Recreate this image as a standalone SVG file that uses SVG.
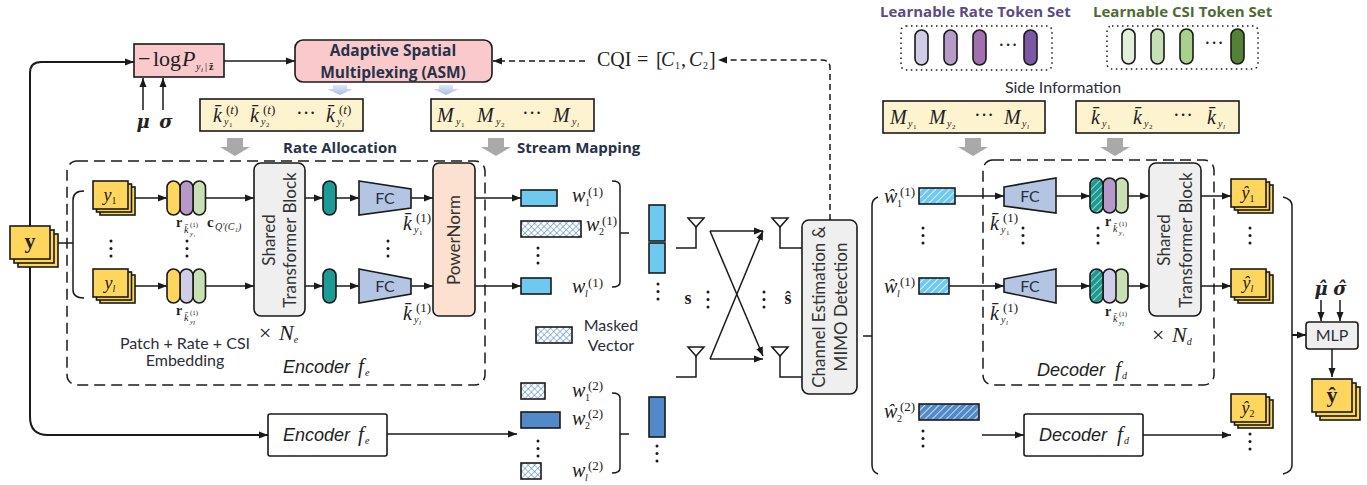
<svg xmlns="http://www.w3.org/2000/svg" width="1367" height="485" viewBox="0 0 1367 485">
<style>
text{fill:#222}
.n{stroke:#1a1a1a;stroke-width:1.6}
.c{fill:none;stroke:#1a1a1a;stroke-width:1.5}
.b{stroke-width:2}
.ar{marker-end:url(#ah)}
.dash{stroke-dasharray:11 6}
.d2{stroke-dasharray:6 4}
.dot{fill:none;stroke:#1a1a1a;stroke-width:1.5;stroke-dasharray:1.5 3.5}
.sans{font-family:Lato,"Open Sans","Liberation Sans",sans-serif;font-size:16px;fill:#2a2f3a}
.hd{font-family:"Open Sans",Lato,"Liberation Sans",sans-serif;font-size:15px;font-weight:700;fill:#263248}
.rot{font-family:Lato,"Open Sans","Liberation Sans",sans-serif;font-size:17px;fill:#333;text-anchor:middle}
.it{font-family:"Liberation Sans",Arial,sans-serif;font-style:italic;font-size:18px;fill:#222}
.m{font-family:"Liberation Serif","Times New Roman",serif;font-style:italic;font-size:20px}
.bm{font-family:"DejaVu Serif",serif;font-style:italic;font-weight:700;font-size:18px}
.r{font-style:normal}
.s{font-size:10px}
.t{font-size:7px;font-style:normal}
.ti{font-size:7px;font-style:italic}
.u{font-size:13px;font-style:normal}
.bo{font-weight:700}
.gr{fill:#a9a9a9}
.y{fill:#fdf3cf}
.st{fill:#fed65e}
.dt{fill:#1a1a1a}
</style>
<defs>
<marker id="ah" markerUnits="userSpaceOnUse" markerWidth="10" markerHeight="8" refX="9" refY="4" orient="auto"><path d="M0 0.5L9 4L0 7.5Z" fill="#1a1a1a"/></marker>
<pattern id="cross" width="4.500" height="4.500" patternUnits="userSpaceOnUse" patternTransform="rotate(45)"><rect width="4.500" height="4.500" fill="#fff"/><path d="M0 0H4.500M0 0V4.500" stroke="#3f7cc0" stroke-width="1.100"/></pattern>
<pattern id="hl" width="5" height="5" patternUnits="userSpaceOnUse" patternTransform="rotate(45)"><rect width="5" height="5" fill="#6ec9f0"/><path d="M0 0V5" stroke="#fff" stroke-width="1.4"/></pattern>
<pattern id="hd" width="5" height="5" patternUnits="userSpaceOnUse" patternTransform="rotate(45)"><rect width="5" height="5" fill="#5289c8"/><path d="M0 0V5" stroke="#fff" stroke-width="1.4"/></pattern>
<pattern id="ht" width="5" height="5" patternUnits="userSpaceOnUse" patternTransform="rotate(45)"><rect width="5" height="5" fill="#1b9a8f"/><path d="M0 0V5" stroke="#fff" stroke-width="1.2"/></pattern>
<linearGradient id="fn" x1="0" y1="0" x2="0" y2="1"><stop offset="0" stop-color="#dfe6f6"/><stop offset="1" stop-color="#a9bde8"/></linearGradient>
<path id="gar" class="gr" d="M-8 0H8V9H15L0 18L-15 9H-8Z"/>
<path id="lar" fill="url(#fn)" d="M-7 0H7V4H13L0 10L-13 4H-7Z"/>
<g id="st3"><rect class="n st" x="7" y="6" width="35" height="28"/><rect class="n st" x="3.500" y="3" width="35" height="28"/><rect class="n st" width="35" height="28"/></g>
<g id="dv"><circle cx="0" cy="0" r="1.500" class="dt"/><circle cx="0" cy="7.500" r="1.500" class="dt"/><circle cx="0" cy="15" r="1.500" class="dt"/></g>
</defs>

<g id="connectors">
<path class="c b ar" d="M30 226V73Q30 62 41 62H134"/>
<path class="c b ar" d="M30 267V417Q30 435 48 435H268"/>
<path class="c ar" d="M224 61H295"/>
<path class="c ar" d="M143 110V78"/><path class="c ar" d="M163 110V78"/>
<path class="c" d="M58 243H73"/>
<path class="c" d="M84 191Q73 191 73 200V290Q73 298 84 298"/>
<path class="c ar" d="M135 198H167"/><path class="c ar" d="M205 198H254"/><path class="c ar" d="M305 198H323"/><path class="c ar" d="M336 198H359"/><path class="c ar" d="M411 198H433"/><path class="c ar" d="M475 198H521"/>
<path class="c ar" d="M135 286H167"/><path class="c ar" d="M205 286H254"/><path class="c ar" d="M305 286H323"/><path class="c ar" d="M336 286H359"/><path class="c ar" d="M411 286H433"/><path class="c ar" d="M475 286H521"/>
<path class="c ar" d="M387 434H517"/>
<path class="c" d="M612 181Q620 181 620 186V282Q620 287 612 287M620 233H629"/>
<path class="c" d="M612 393Q620 393 620 398V468Q620 473 612 473M620 434H629"/>
<path class="c" d="M676 248H696V226M676 377H696V356M780 226V248H802M780 356V377H802"/>
<path class="c ar" d="M710 231H763"/><path class="c ar" d="M710 231L763 356"/><path class="c ar" d="M710 359H763"/><path class="c ar" d="M710 359L763 231"/>
<path class="c d2 ar" d="M830 220V68Q830 60 822 60H718"/>
<path class="c d2 ar" d="M585 61H493"/>
<path class="c" d="M863 336H872"/>
<path class="c" d="M878 197Q872 199 872 206V465Q872 472 878 474"/>
<path class="c" d="M1283 197Q1292 199 1292 206V465Q1292 472 1283 474"/>
<path class="c b ar" d="M1292 335H1306"/>
<path class="c ar" d="M955 196H1004"/><path class="c ar" d="M1056 196H1090"/><path class="c ar" d="M1128 196H1149"/><path class="c ar" d="M1201 196H1231"/>
<path class="c ar" d="M949 286H1004"/><path class="c ar" d="M1056 286H1090"/><path class="c ar" d="M1128 286H1149"/><path class="c ar" d="M1201 286H1231"/>
<path class="c ar" d="M982 435H1024"/><path class="c ar" d="M1143 435H1231"/>
<path class="c ar" d="M1321 300V321"/><path class="c ar" d="M1340 300V321"/><path class="c ar" d="M1332 349V377"/>
</g>

<g id="input-y"><rect class="n st" x="18" y="234" width="40" height="33"/><rect class="n st" x="14" y="230" width="40" height="33"/><rect class="n st" x="10" y="226" width="40" height="33"/><text class="m r bo" x="30" y="248" text-anchor="middle" style="font-size:22px">y</text></g>

<g id="neg-log"><rect class="n" x="134" y="44" width="90" height="33" fill="#f9c9cc"/>
<text class="m r" x="138" y="66" style="font-size:22px">−<tspan x="153">log</tspan><tspan x="182" font-style="italic">P</tspan><tspan class="s" x="196" y="70" font-style="italic">y</tspan><tspan class="ti" x="201" y="72">i</tspan><tspan class="s" x="205" y="70">|</tspan><tspan class="s bo" x="209" y="70" font-style="normal">z̄</tspan></text></g>

<g id="asm"><rect class="n" x="295" y="40" width="197" height="42" rx="8" fill="#f9c9cc"/>
<text class="hd" x="393" y="56" text-anchor="middle" style="font-size:15.500px">Adaptive Spatial</text><text class="hd" x="393" y="78" text-anchor="middle" style="font-size:15.500px">Multiplexing (ASM)</text></g>

<g id="mu-sigma"><text class="bm" x="143" y="128" text-anchor="middle">μ</text><text class="bm" x="166" y="128" text-anchor="middle">σ</text></g>
<g id="asm-outputs"><use href="#lar" x="340" y="85"/><use href="#lar" x="446" y="85"/></g>

<g id="rate-box"><rect class="n y" x="200" y="99" width="163" height="32"/>
<text class="m" x="213" y="122">k̄<tspan class="s" x="224" y="125">y</tspan><tspan class="t" x="229" y="127">1</tspan><tspan class="u" x="226" y="114">(<tspan font-style="italic">t</tspan>)</tspan></text>
<text class="m" x="250" y="122">k̄<tspan class="s" x="261" y="125">y</tspan><tspan class="t" x="266" y="127">2</tspan><tspan class="u" x="263" y="114">(<tspan font-style="italic">t</tspan>)</tspan></text>
<text class="m r" x="296" y="120">···</text>
<text class="m" x="326" y="122">k̄<tspan class="s" x="337" y="125">y</tspan><tspan class="ti" x="342" y="127">l</tspan><tspan class="u" x="339" y="114">(<tspan font-style="italic">t</tspan>)</tspan></text></g>

<g id="map-box"><rect class="n y" x="431" y="99" width="163" height="32"/>
<text class="m" x="437" y="122">M<tspan class="s" x="456" y="125">y</tspan><tspan class="t" x="461" y="127">1</tspan></text>
<text class="m" x="477" y="122">M<tspan class="s" x="496" y="125">y</tspan><tspan class="t" x="501" y="127">2</tspan></text>
<text class="m r" x="522" y="120">···</text>
<text class="m" x="553" y="122">M<tspan class="s" x="572" y="125">y</tspan><tspan class="ti" x="577" y="127">l</tspan></text></g>

<g id="side-arrows"><use href="#gar" x="235" y="138"/><use href="#gar" x="496" y="138"/><use href="#gar" x="973" y="138"/><use href="#gar" x="1115" y="138"/></g>
<text class="hd" x="283" y="153">Rate Allocation</text>
<text class="hd" x="517" y="153">Stream Mapping</text>

<g id="encoder">
<rect x="67" y="161" width="418" height="224" rx="10" class="c dash"/>
<use href="#st3" x="93" y="181"/><text class="m" x="110" y="201" text-anchor="middle" style="font-size:18px">y<tspan class="s r" dy="3">1</tspan></text>
<use href="#st3" x="93" y="269"/><text class="m" x="110" y="289" text-anchor="middle" style="font-size:18px">y<tspan class="s" dy="3">l</tspan></text>
<g class="n"><rect x="193" y="181" width="12.500" height="34" rx="6.200" fill="#c8e0b4"/><rect x="180" y="181" width="13" height="34" rx="6.500" fill="#b59ac9"/><rect x="167" y="181" width="13" height="34" rx="6.500" fill="#fed65e"/>
<rect x="193" y="269" width="12.500" height="34" rx="6.200" fill="#c8e0b4"/><rect x="180" y="269" width="13" height="34" rx="6.500" fill="#cfcde8"/><rect x="167" y="269" width="13" height="34" rx="6.500" fill="#fed65e"/></g>
<rect class="n" x="254" y="163" width="51" height="153" rx="7" fill="#eeefee"/>
<text class="rot" transform="translate(275 240) rotate(-90)">Shared</text><text class="rot" transform="translate(296 240) rotate(-90)">Transformer Block</text>
<rect class="n" x="323" y="181" width="13" height="34" rx="6.500" fill="#1b9a96"/><rect class="n" x="323" y="269" width="13" height="34" rx="6.500" fill="#1b9a96"/>
<path class="n" d="M359 181L411 189V208L359 215Z" fill="#b3c5e3"/><path class="n" d="M359 269L411 279V294L359 303Z" fill="#b3c5e3"/>
<text class="sans" x="385" y="204" text-anchor="middle">FC</text><text class="sans" x="385" y="292" text-anchor="middle">FC</text>
<rect class="n" x="433" y="163" width="42" height="153" rx="6" fill="#fce0d0"/>
<text class="rot" transform="translate(460 240) rotate(-90)">PowerNorm</text>
<use href="#dv" x="111" y="241"/><use href="#dv" x="187" y="241"/><use href="#dv" x="388" y="241"/>
<text class="m bo r" x="176" y="227" style="font-size:14px">r<tspan class="s" x="184" y="233" font-weight="400" font-style="italic">k̄</tspan><tspan class="t" x="190" y="227" font-weight="400">(1)</tspan><tspan class="ti" x="190" y="236" font-weight="400">y₁</tspan></text>
<text class="m bo r" x="207" y="227" style="font-size:15px">c<tspan class="s" x="215" y="230" font-weight="400" font-style="italic">Q′(C₁)</tspan></text>
<text class="m bo r" x="176" y="315" style="font-size:14px">r<tspan class="s" x="184" y="321" font-weight="400" font-style="italic">k̄</tspan><tspan class="t" x="190" y="315" font-weight="400">(1)</tspan><tspan class="ti" x="190" y="324" font-weight="400">y<tspan dy="1">l</tspan></tspan></text>
<text class="m" x="403" y="230">k̄<tspan class="s" x="414" y="233">y</tspan><tspan class="t" x="419" y="235">1</tspan><tspan class="u" x="416" y="222">(1)</tspan></text>
<text class="m" x="403" y="320">k̄<tspan class="s" x="414" y="323">y</tspan><tspan class="ti" x="419" y="325">l</tspan><tspan class="u" x="416" y="312">(1)</tspan></text>
<text class="m" x="259" y="340" style="font-size:22px"><tspan class="r">×</tspan><tspan x="279">N</tspan><tspan class="s" dy="3">e</tspan></text>
<text class="sans" x="185" y="349" text-anchor="middle">Patch + Rate + CSI</text><text class="sans" x="185" y="366" text-anchor="middle">Embedding</text>
<text class="it" x="283" y="373">Encoder<tspan class="m" x="358" style="font-size:21px">f</tspan><tspan class="m s" x="365" y="376" style="font-size:10px">e</tspan></text>
</g>

<g id="encoder-2"><rect class="n" x="268" y="414" width="119" height="42" rx="2" fill="#fff"/><text class="it" x="283" y="441">Encoder<tspan class="m" x="358" style="font-size:21px">f</tspan><tspan class="m s" x="365" y="444" style="font-size:10px">e</tspan></text></g>

<g id="stream-1">
<rect class="n" x="521" y="190" width="36" height="16" fill="#6ec9f0"/><rect class="n" x="521" y="221" width="60" height="16" fill="url(#cross)"/><use href="#dv" x="538" y="248"/><rect class="n" x="521" y="278" width="30" height="16" fill="#6ec9f0"/>
<text class="m" x="572" y="202">w<tspan class="s r" x="585" y="206">1</tspan><tspan class="u" x="588" y="196">(1)</tspan></text>
<text class="m" x="586" y="231">w<tspan class="s r" x="599" y="235">2</tspan><tspan class="u" x="602" y="225">(1)</tspan></text>
<text class="m" x="572" y="293">w<tspan class="s" x="585" y="297">l</tspan><tspan class="u" x="588" y="287">(1)</tspan></text>
<rect class="n" x="649" y="205" width="16" height="36" fill="#6ec9f0"/><rect class="n" x="649" y="243" width="16" height="30" fill="#6ec9f0"/><use href="#dv" x="658" y="284"/>
</g>

<g id="masked-legend"><rect class="n" x="536" y="327" width="36" height="16" fill="url(#cross)"/><text class="sans" x="611" y="331" text-anchor="middle">Masked</text><text class="sans" x="611" y="351" text-anchor="middle">Vector</text></g>

<g id="stream-2">
<rect class="n" x="521" y="383" width="24" height="16" fill="url(#cross)"/><rect class="n" x="521" y="412" width="39" height="16" fill="#5289c8"/><use href="#dv" x="538" y="441"/><rect class="n" x="521" y="463" width="20" height="16" fill="url(#cross)"/>
<text class="m" x="572" y="397">w<tspan class="s r" x="585" y="401">1</tspan><tspan class="u" x="588" y="390">(2)</tspan></text>
<text class="m" x="572" y="425">w<tspan class="s r" x="585" y="429">2</tspan><tspan class="u" x="588" y="418">(2)</tspan></text>
<text class="m" x="572" y="477">w<tspan class="s" x="585" y="481">l</tspan><tspan class="u" x="588" y="470">(2)</tspan></text>
<rect class="n" x="649" y="397" width="16" height="40" fill="#5289c8"/><use href="#dv" x="657" y="446"/>
</g>

<g id="mimo">
<g class="c"><path fill="#fff" d="M688 218H704L696 227Z"/><path fill="#fff" d="M688 347H704L696 356Z"/><path fill="#fff" d="M772 218H788L780 227Z"/><path fill="#fff" d="M772 347H788L780 356Z"/></g>
<text class="m r bo" x="688" y="304" text-anchor="middle" style="font-size:18px">s</text><use href="#dv" x="708" y="292"/><use href="#dv" x="764" y="292"/><text class="m r bo" x="788" y="304" text-anchor="middle" style="font-size:18px">ŝ</text>
</g>

<g id="channel"><rect class="n" x="802" y="220" width="55" height="174" rx="7" fill="#eeefee"/><text class="rot" transform="translate(825 307) rotate(-90)">Channel Estimation &amp;</text><text class="rot" transform="translate(847 307) rotate(-90)">MIMO Detection</text></g>

<g id="cqi"><text class="m r" x="597" y="66" style="font-size:20px">CQI<tspan x="637">=</tspan><tspan x="656">[</tspan><tspan x="661" font-style="italic">C</tspan><tspan class="s" x="675" y="69">1</tspan><tspan x="681" y="66">,</tspan><tspan x="689" font-style="italic">C</tspan><tspan class="s" x="703" y="69">2</tspan><tspan x="709" y="66">]</tspan></text></g>

<g id="rate-tokens"><text class="hd" x="880" y="17" style="fill:#5b4a85">Learnable Rate Token Set</text>
<rect x="901" y="26" width="151" height="44" rx="5" class="dot"/>
<g class="n"><rect x="915" y="30" width="13" height="35" rx="6.500" fill="#d0cce6"/><rect x="944" y="30" width="13" height="35" rx="6.500" fill="#b69bc9"/><rect x="973" y="30" width="13" height="35" rx="6.500" fill="#a26fb0"/><rect x="1024" y="30" width="13" height="35" rx="6.500" fill="#7b57a5"/></g>
<text class="m r" x="998" y="52">···</text></g>

<g id="csi-tokens"><text class="hd" x="1093" y="17" style="fill:#4f6b33">Learnable CSI Token Set</text>
<rect x="1107" y="26" width="151" height="43" rx="5" class="dot"/>
<g class="n"><rect x="1122" y="29" width="13" height="35" rx="6.500" fill="#e2efda"/><rect x="1151" y="29" width="13" height="35" rx="6.500" fill="#c5e0b4"/><rect x="1180" y="29" width="13" height="35" rx="6.500" fill="#a9d18e"/><rect x="1231" y="29" width="13" height="35" rx="6.500" fill="#548235"/></g>
<text class="m r" x="1204" y="50">···</text></g>

<text class="sans" x="1063" y="93" text-anchor="middle">Side Information</text>

<g id="side-map"><rect class="n y" x="883" y="101" width="162" height="32"/>
<text class="m" x="890" y="124">M<tspan class="s" x="908" y="127">y</tspan><tspan class="t" x="913" y="129">1</tspan></text>
<text class="m" x="929" y="124">M<tspan class="s" x="947" y="127">y</tspan><tspan class="t" x="952" y="129">2</tspan></text>
<text class="m r" x="974" y="122">···</text>
<text class="m" x="1004" y="124">M<tspan class="s" x="1022" y="127">y</tspan><tspan class="ti" x="1027" y="129">l</tspan></text></g>

<g id="side-rate"><rect class="n y" x="1076" y="101" width="163" height="32"/>
<text class="m" x="1091" y="124">k̄<tspan class="s" x="1102" y="127">y</tspan><tspan class="t" x="1107" y="129">1</tspan></text>
<text class="m" x="1133" y="124">k̄<tspan class="s" x="1144" y="127">y</tspan><tspan class="t" x="1149" y="129">2</tspan></text>
<text class="m r" x="1173" y="122">···</text>
<text class="m" x="1207" y="124">k̄<tspan class="s" x="1218" y="127">y</tspan><tspan class="ti" x="1223" y="129">l</tspan></text></g>

<g id="received">
<text class="m" x="884" y="203">ŵ<tspan class="s r" x="897" y="207">1</tspan><tspan class="u" x="900" y="196">(1)</tspan></text>
<rect class="n" x="919" y="188" width="36" height="16" fill="url(#hl)"/>
<use href="#dv" x="923" y="228"/>
<text class="m" x="884" y="293">ŵ<tspan class="s" x="897" y="297">l</tspan><tspan class="u" x="900" y="286">(1)</tspan></text>
<rect class="n" x="919" y="278" width="30" height="16" fill="url(#hl)"/>
<text class="m" x="884" y="418">ŵ<tspan class="s r" x="897" y="422">2</tspan><tspan class="u" x="900" y="411">(2)</tspan></text>
<rect class="n" x="919" y="404" width="60" height="16" fill="url(#hd)"/>
<use href="#dv" x="923" y="431"/>
</g>

<g id="decoder">
<rect x="983" y="160" width="231" height="225" rx="10" class="c dash"/>
<path class="n" d="M1004 187L1056 178V213L1004 206Z" fill="#b3c5e3"/><path class="n" d="M1004 279L1056 269V303L1004 292Z" fill="#b3c5e3"/>
<text class="sans" x="1030" y="202" text-anchor="middle">FC</text><text class="sans" x="1030" y="292" text-anchor="middle">FC</text>
<g class="n"><rect x="1115" y="178" width="13" height="35" rx="6.500" fill="#c8e0b4"/><rect x="1103" y="178" width="13" height="35" rx="6.500" fill="#b59ac9"/><rect x="1090" y="178" width="13" height="35" rx="6.500" fill="url(#ht)"/>
<rect x="1115" y="269" width="13" height="34" rx="6.500" fill="#c8e0b4"/><rect x="1103" y="269" width="13" height="34" rx="6.500" fill="#cfcde8"/><rect x="1090" y="269" width="13" height="34" rx="6.500" fill="url(#ht)"/></g>
<rect class="n" x="1149" y="163" width="52" height="153" rx="7" fill="#eeefee"/>
<text class="rot" transform="translate(1170 240) rotate(-90)">Shared</text><text class="rot" transform="translate(1192 240) rotate(-90)">Transformer Block</text>
<use href="#dv" x="1023" y="228"/><use href="#dv" x="1098" y="228"/>
<text class="m" x="990" y="230">k̄<tspan class="s" x="1001" y="233">y</tspan><tspan class="t" x="1006" y="235">1</tspan><tspan class="u" x="1003" y="222">(1)</tspan></text>
<text class="m" x="990" y="320">k̄<tspan class="s" x="1001" y="323">y</tspan><tspan class="ti" x="1006" y="325">l</tspan><tspan class="u" x="1003" y="312">(1)</tspan></text>
<text class="m bo r" x="1105" y="226" style="font-size:14px">r<tspan class="s" x="1113" y="232" font-weight="400" font-style="italic">k̄</tspan><tspan class="t" x="1119" y="226" font-weight="400">(1)</tspan><tspan class="ti" x="1119" y="235" font-weight="400">y₁</tspan></text>
<text class="m bo r" x="1105" y="316" style="font-size:14px">r<tspan class="s" x="1113" y="322" font-weight="400" font-style="italic">k̄</tspan><tspan class="t" x="1119" y="316" font-weight="400">(1)</tspan><tspan class="ti" x="1119" y="325" font-weight="400">y<tspan dy="1">l</tspan></tspan></text>
<text class="m" x="1152" y="342" style="font-size:22px"><tspan class="r">×</tspan><tspan x="1172">N</tspan><tspan class="s" dy="3">d</tspan></text>
<text class="it" x="1037" y="376">Decoder<tspan class="m" x="1115" style="font-size:21px">f</tspan><tspan class="m s" x="1122" y="379" style="font-size:10px">d</tspan></text>
</g>

<g id="decoder-2"><rect class="n" x="1024" y="414" width="119" height="42" rx="2" fill="#fff"/><text class="it" x="1039" y="441">Decoder<tspan class="m" x="1117" style="font-size:21px">f</tspan><tspan class="m s" x="1124" y="444" style="font-size:10px">d</tspan></text></g>

<g id="outputs">
<use href="#st3" x="1231" y="179"/><text class="m" x="1248" y="199" text-anchor="middle" style="font-size:18px">ŷ<tspan class="s r" dy="3">1</tspan></text>
<use href="#dv" x="1250" y="228"/>
<use href="#st3" x="1231" y="269"/><text class="m" x="1248" y="289" text-anchor="middle" style="font-size:18px">ŷ<tspan class="s" dy="3">l</tspan></text>
<use href="#st3" x="1231" y="394"/><text class="m" x="1248" y="414" text-anchor="middle" style="font-size:18px">ŷ<tspan class="s r" dy="3">2</tspan></text>
<use href="#dv" x="1250" y="434"/>
</g>

<g id="mlp"><text class="bm" x="1321" y="295" text-anchor="middle">μ̂</text><text class="bm" x="1340" y="295" text-anchor="middle">σ̂</text>
<rect class="n" x="1306" y="322" width="52" height="27" rx="3" fill="#eeefee"/><text class="sans" x="1332" y="341" text-anchor="middle">MLP</text></g>

<g id="output-y"><rect class="n st" x="1320" y="387" width="40" height="33"/><rect class="n st" x="1316" y="383" width="40" height="33"/><rect class="n st" x="1312" y="379" width="40" height="33"/><text class="m r bo" x="1332" y="402" text-anchor="middle" style="font-size:22px">ŷ</text></g>
</svg>
